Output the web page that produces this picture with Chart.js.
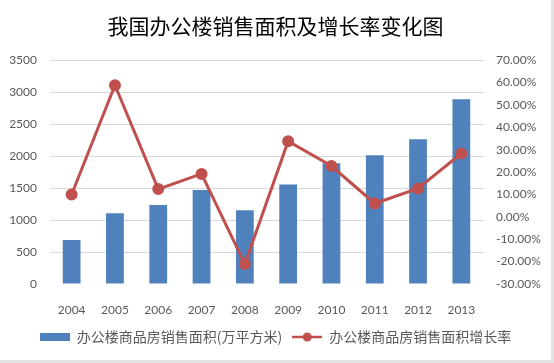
<!DOCTYPE html>
<html>
<head>
<meta charset="utf-8">
<script src="https://cdn.jsdelivr.net/npm/chart.js@4/dist/chart.umd.min.js"></script>
<style>
html, body { margin: 0; padding: 0; background: #e3e3e3; }
#wrap { position: absolute; left: 0; top: 0; width: 551px; height: 360px; background: #ffffff; }
</style>
</head>
<body>
<div id="wrap"><canvas id="c"></canvas></div>
<script>
const titleText = '我国办公楼销售面积及增长率变化图';
const years = ['2004', '2005', '2006', '2007', '2008', '2009', '2010', '2011', '2012', '2013'];
const areaLabel = '办公楼商品房销售面积(万平方米)';
const areaValues = [690, 1105, 1235, 1470, 1155, 1555, 1890, 2015, 2265, 2890];
const rateLabel = '办公楼商品房销售面积增长率';
const rateValues = [10.0, 58.8, 12.4, 19.2, -21.1, 33.8, 22.7, 6.0, 12.7, 28.3];
const leftTicks = [0, 500, 1000, 1500, 2000, 2500, 3000, 3500];
const rightTicks = [-30, -20, -10, 0, 10, 20, 30, 40, 50, 60, 70];

const BLUE = '#4F81BD';
const RED = '#C0504D';
const GREY = '#595959';

function makeBarSwatch() {
  const c = document.createElement('canvas');
  c.width = 30; c.height = 8;
  const x = c.getContext('2d');
  x.fillStyle = BLUE; x.fillRect(0, 0, 30, 8);
  return c;
}
function makeLineSwatch() {
  const c = document.createElement('canvas');
  c.width = 30; c.height = 10;
  const x = c.getContext('2d');
  x.strokeStyle = RED; x.lineWidth = 2.5;
  x.beginPath(); x.moveTo(0, 5); x.lineTo(30, 5); x.stroke();
  x.fillStyle = RED; x.beginPath(); x.arc(15, 5, 4.5, 0, Math.PI * 2); x.fill();
  return c;
}
const swatches = [makeBarSwatch(), makeLineSwatch()];

new Chart(document.getElementById('c'), {
  data: {
    labels: years,
    datasets: [
      {
        type: 'bar',
        label: areaLabel,
        data: areaValues,
        yAxisID: 'y',
        backgroundColor: BLUE,
        borderWidth: 0,
        categoryPercentage: 1.0,
        barPercentage: 0.41,
        order: 2
      },
      {
        type: 'line',
        label: rateLabel,
        data: rateValues,
        yAxisID: 'y1',
        borderColor: RED,
        backgroundColor: RED,
        borderWidth: 3,
        pointRadius: 4.5,
        pointBackgroundColor: RED,
        pointBorderColor: RED,
        tension: 0,
        order: 1
      }
    ]
  },
  options: {
    responsive: true,
    maintainAspectRatio: false,
    animation: false,
    layout: { padding: { top: 0, bottom: 6, left: 0, right: 0 } },
    plugins: {
      tooltip: { enabled: false },
      title: {
        display: true,
        text: titleText,
        color: '#000000',
        font: { family: '"Noto Sans CJK SC"', size: 21, weight: 'normal' },
        padding: { top: 13, bottom: 22 }
      },
      legend: {
        position: 'bottom',
        labels: {
          color: GREY,
          font: { family: '"Noto Sans CJK SC"', size: 14 },
          usePointStyle: true,
          pointStyleWidth: 30,
          boxHeight: 10,
          padding: 10,
          sort: (a, b) => a.datasetIndex - b.datasetIndex,
          generateLabels: (chart) => {
            const items = Chart.defaults.plugins.legend.labels.generateLabels(chart);
            items.forEach(it => { it.pointStyle = swatches[it.datasetIndex]; it.lineWidth = 0; });
            return items;
          }
        }
      }
    },
    scales: {
      x: {
        grid: { display: false },
        border: { display: false },
        ticks: { color: GREY, font: { family: 'Lato', size: 12 }, padding: 11, maxRotation: 0 },
        afterFit: (s) => { s.height = 36; }
      },
      y: {
        position: 'left',
        min: 0,
        max: 3500,
        afterBuildTicks: (s) => { s.ticks = leftTicks.map(v => ({ value: v })); },
        grid: {
          drawTicks: false,
          color: (ctx) => (ctx.tick && ctx.tick.value === 0) ? 'rgba(0,0,0,0)' : '#d9d9d9',
          lineWidth: 1
        },
        border: { display: false },
        ticks: {
          color: GREY,
          font: { family: 'Lato', size: 12 },
          padding: 13,
          callback: (v) => String(v)
        },
        afterFit: (s) => { s.width = 50; }
      },
      y1: {
        position: 'right',
        min: -30,
        max: 70,
        afterBuildTicks: (s) => { s.ticks = rightTicks.map(v => ({ value: v })); },
        grid: { display: false, drawTicks: false },
        border: { display: false },
        ticks: {
          color: GREY,
          font: { family: 'Lato', size: 12 },
          padding: 13,
          callback: (v) => Number(v).toFixed(2) + '%'
        },
        afterFit: (s) => { s.width = 68; }
      }
    }
  }
});
</script>
</body>
</html>
